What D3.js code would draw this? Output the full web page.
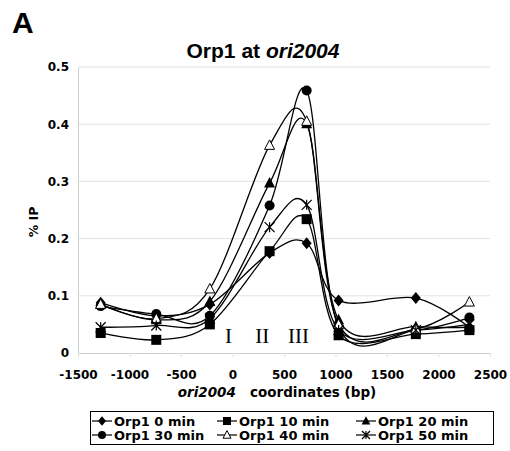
<!DOCTYPE html>
<html>
<head>
<meta charset="utf-8">
<script src="https://cdn.jsdelivr.net/npm/d3@7"></script>
<style>
  body { margin: 0; background: #fff; }
  text { fill: #000; }
</style>
</head>
<body>
<div id="chart"></div>
<script>
// positions along ori2004 (bp)
let coords = [-1280, -740, -220, 360, 720, 1030, 1780, 2300];

let seriesNames = ["Orp1 0 min", "Orp1 10 min", "Orp1 20 min", "Orp1 30 min", "Orp1 40 min", "Orp1 50 min"];
let markers = ["diamond", "square", "triangle", "circle", "triangleOpen", "asterisk"];

let orp0 = [0.088, 0.065, 0.085, 0.175, 0.192, 0.092, 0.096, 0.045];
let orp10 = [0.035, 0.023, 0.050, 0.178, 0.234, 0.031, 0.033, 0.040];
let orp20 = [0.085, 0.058, 0.090, 0.297, 0.401, 0.058, 0.046, 0.045];
let orp30 = [0.082, 0.068, 0.065, 0.258, 0.459, 0.045, 0.040, 0.062];
let orp40 = [0.085, 0.060, 0.112, 0.363, 0.405, 0.050, 0.042, 0.089];
let orp50 = [0.045, 0.048, 0.060, 0.220, 0.259, 0.040, 0.040, 0.050];
let allSeries = [orp0, orp10, orp20, orp30, orp40, orp50];

let xTicks = [-1500, -1000, -500, 0, 500, 1000, 1500, 2000, 2500];
let yTicks = [0, 0.1, 0.2, 0.3, 0.4, 0.5];
let regionLabels = [{ label: "I", x: -40 }, { label: "II", x: 290 }, { label: "III", x: 640 }];

let width = 510, height = 451;
let plot = { left: 78, right: 490, top: 67, bottom: 353 }; //px

let svg = d3.select("#chart")
    .append("svg")
    .attr("width", width)
    .attr("height", height);

let x = d3.scaleLinear().domain([-1500, 2500]).range([plot.left, plot.right]);
let y = d3.scaleLinear().domain([0, 0.5]).range([plot.bottom, plot.top]);

// gridlines
svg.append("g")
    .selectAll("line")
    .data(yTicks.slice(1))
    .join("line")
    .attr("x1", plot.left).attr("x2", plot.right)
    .attr("y1", d => y(d)).attr("y2", d => y(d))
    .attr("stroke", "#e2e2e2")
    .attr("stroke-width", 1);

// axes
let yAxis = d3.axisLeft(y).tickValues(yTicks).tickSize(0).tickPadding(9)
    .tickFormat(d => d === 0 ? "0" : d3.format(".1f")(d));
let gy = svg.append("g")
    .attr("transform", "translate(" + plot.left + ",0)")
    .call(yAxis);
gy.select(".domain").attr("stroke", "#d0d0d0");
gy.selectAll("text")
    .attr("font-family", "DejaVu Sans")
    .attr("font-weight", "bold")
    .attr("font-size", "12px")
    .attr("fill", "#000");

let xAxis = d3.axisBottom(x).tickValues(xTicks).tickSize(4).tickPadding(13)
    .tickFormat(d => String(d));
let gx = svg.append("g")
    .attr("transform", "translate(0," + plot.bottom + ")")
    .call(xAxis);
gx.select(".domain").attr("stroke", "#d0d0d0").attr("d", "M" + plot.left + ",0.5H" + plot.right);
gx.selectAll(".tick line").attr("stroke", "#e2e2e2");
gx.selectAll("text")
    .attr("font-family", "DejaVu Sans")
    .attr("font-weight", "bold")
    .attr("font-size", "12px")
    .attr("fill", "#000");

// titles
svg.append("text")
    .attr("x", 12).attr("y", 33)
    .attr("font-family", "Liberation Sans")
    .attr("font-weight", "bold")
    .attr("font-size", "30px")
    .text("A");

let title = svg.append("text")
    .attr("x", 263).attr("y", 58)
    .attr("text-anchor", "middle")
    .attr("font-family", "Liberation Sans")
    .attr("font-weight", "bold")
    .attr("font-size", "21px");
title.append("tspan").text("Orp1 at ");
title.append("tspan").attr("font-style", "italic").text("ori2004");

let yLabelCenter = { x: 38, y: 222 };
svg.append("text")
    .attr("x", yLabelCenter.x).attr("y", yLabelCenter.y)
    .attr("text-anchor", "middle")
    .attr("transform", "rotate(-90," + yLabelCenter.x + "," + yLabelCenter.y + ")")
    .attr("font-family", "DejaVu Sans")
    .attr("font-weight", "bold")
    .attr("font-size", "12.5px")
    .text("% IP");

let xTitle = svg.append("text")
    .attr("x", 277).attr("y", 397)
    .attr("text-anchor", "middle")
    .attr("font-family", "DejaVu Sans")
    .attr("font-weight", "bold")
    .attr("font-size", "13.5px")
    .attr("xml:space", "preserve");
xTitle.append("tspan").attr("font-style", "italic").text("ori2004");
xTitle.append("tspan").text("   coordinates (bp)");

// region labels I II III
svg.append("g")
    .selectAll("text")
    .data(regionLabels)
    .join("text")
    .attr("x", d => x(d.x)).attr("y", 343)
    .attr("text-anchor", "middle")
    .attr("font-family", "Liberation Serif")
    .attr("font-size", "21px")
    .attr("fill", "#222")
    .text(d => d.label);

// marker drawing
function drawMarker(g, type, size) {
    let s = size;
    if (type === "diamond") {
        g.append("path").attr("d", "M0," + (-s * 0.6) + "L" + (s * 0.5) + ",0L0," + (s * 0.6) + "L" + (-s * 0.5) + ",0Z").attr("fill", "#000");
    } else if (type === "square") {
        g.append("rect").attr("x", -s / 2).attr("y", -s / 2).attr("width", s).attr("height", s).attr("fill", "#000");
    } else if (type === "triangle") {
        g.append("path").attr("d", "M0," + (-s * 0.6) + "L" + (s * 0.55) + "," + (s * 0.45) + "L" + (-s * 0.55) + "," + (s * 0.45) + "Z").attr("fill", "#000");
    } else if (type === "circle") {
        g.append("circle").attr("r", s / 2).attr("fill", "#000");
    } else if (type === "triangleOpen") {
        g.append("path").attr("d", "M0," + (-s * 0.55) + "L" + (s * 0.5) + "," + (s * 0.4) + "L" + (-s * 0.5) + "," + (s * 0.4) + "Z")
            .attr("fill", "#fff").attr("stroke", "#000").attr("stroke-width", 1);
    } else if (type === "asterisk") {
        let r = s / 2;
        g.append("path")
            .attr("d", "M" + (-r) + "," + (-r) + "L" + r + "," + r + "M" + (-r) + "," + r + "L" + r + "," + (-r) + "M0," + (-r) + "L0," + r)
            .attr("stroke", "#000").attr("stroke-width", 1.2).attr("fill", "none");
    }
}

// lines
let line = d3.line()
    .x((d, i) => x(coords[i]))
    .y(d => y(d))
    .curve(d3.curveCardinal.tension(0));

allSeries.forEach((vals, si) => {
    svg.append("path")
        .datum(vals)
        .attr("d", line)
        .attr("fill", "none")
        .attr("stroke", "#000")
        .attr("stroke-width", 1.3);
});

allSeries.forEach((vals, si) => {
    vals.forEach((v, i) => {
        let g = svg.append("g").attr("transform", "translate(" + x(coords[i]) + "," + y(v) + ")");
        drawMarker(g, markers[si], 10);
    });
});

// legend
let legend = { left: 90, top: 411, width: 403, height: 33 };
svg.append("rect")
    .attr("x", legend.left + 0.5).attr("y", legend.top + 0.5)
    .attr("width", legend.width).attr("height", legend.height)
    .attr("fill", "#fff").attr("stroke", "#000").attr("stroke-width", 1);

let colX = [92, 217, 356];
seriesNames.forEach((name, i) => {
    let col = i % 3, row = Math.floor(i / 3);
    let lx = colX[col], ly = legend.top + 10 + row * 14;
    let g = svg.append("g").attr("transform", "translate(" + lx + "," + ly + ")");
    g.append("line").attr("x1", 0).attr("x2", 20).attr("y1", 0).attr("y2", 0)
        .attr("stroke", "#000").attr("stroke-width", 1.2);
    let mg = g.append("g").attr("transform", "translate(10,0)");
    drawMarker(mg, markers[i], 8);
    g.append("text")
        .attr("x", 22).attr("y", 5)
        .attr("font-family", "DejaVu Sans")
        .attr("font-weight", "bold")
        .attr("font-size", "13px")
        .text(name);
});
</script>
</body>
</html>
